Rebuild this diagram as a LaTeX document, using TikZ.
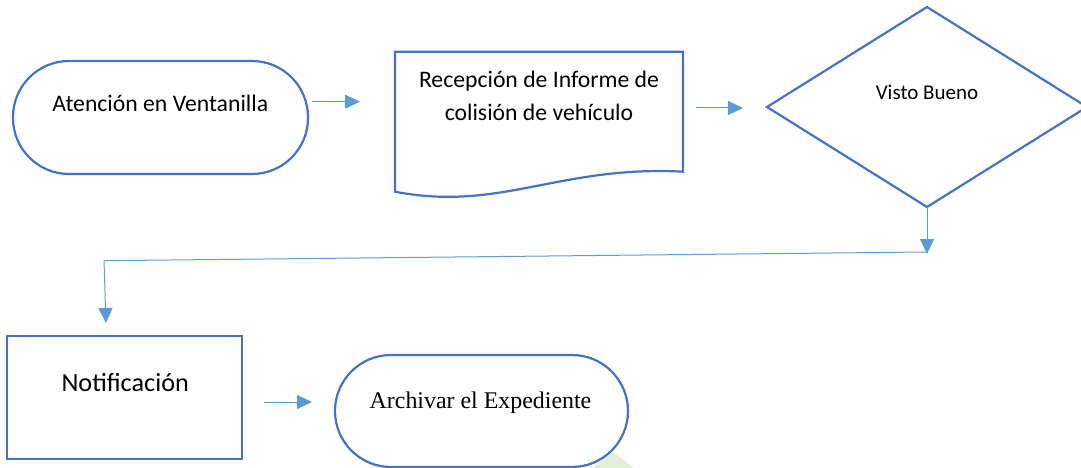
\documentclass[tikz,border=0pt]{standalone}
\usepackage{fontspec}
\setmainfont{Carlito}
\newfontfamily\timesf{Liberation Serif}
\usetikzlibrary{arrows.meta}
\definecolor{shapeblue}{HTML}{4472C4}
\definecolor{arrowblue}{HTML}{5B9BD5}
\definecolor{wmgreen}{HTML}{E2F0D9}
\begin{document}
\begin{tikzpicture}[x=1pt,y=-1pt,
  shapeline/.style={draw=shapeblue,line width=2.2pt,fill=white},
  flow/.style={draw=arrowblue,line width=1pt,-{Triangle[length=15pt,width=14pt]}},
  link/.style={draw=arrowblue,line width=1pt},
  lbl/.style={inner sep=0pt,align=center,text=black}]
\useasboundingbox (0,0) rectangle (1081,468);
% faint watermark
\fill[wmgreen] (592,468) -- (613,452) -- (634,468) -- cycle;
% shapes
\draw[shapeline,rounded corners=56pt] (13,61) rectangle (308,174);
\draw[shapeline] (395,191.7) -- (395,51.7) -- (683,51.7) -- (683,171.7)
   .. controls (560,165) and (500,212) .. cycle;
\draw[shapeline] (767,107) -- (927,7) -- (1087,107) -- (927,207) -- cycle;
\draw[shapeline] (7,336) rectangle (242,459);
\draw[shapeline,rounded corners=56pt] (335,355) rectangle (628,467);
% texts
\node[lbl,anchor=base,font=\fontsize{23.7}{28}\selectfont] (atencion) at (160.3,111.7) {Atención en Ventanilla};
\node[lbl,font=\fontsize{23.7}{33}\selectfont] (recepcion) at (539,96) {Recepción de Informe de\\colisión de vehículo};
\node[lbl,anchor=base,font=\fontsize{21}{25}\selectfont] (visto) at (927,100) {Visto Bueno};
\node[lbl,anchor=base,font=\fontsize{26.2}{31}\selectfont] (notif) at (125.2,391.7) {Notificación};
\node[lbl,anchor=base,font=\timesf\fontsize{23.9}{28}\selectfont] (archivar) at (480.5,408.3) {Archivar el Expediente};
% connector coordinates
\coordinate (a1s) at (312,101.7);
\coordinate (a1e) at (360,101.7);
\coordinate (a2s) at (696,108);
\coordinate (a2e) at (743,108);
\coordinate (a3s) at (927,207);
\coordinate (a3e) at (927,254);
\coordinate (l1) at (927,252);
\coordinate (l2) at (104,260.7);
\coordinate (l3) at (106,323);
\coordinate (a4s) at (264,402);
\coordinate (a4e) at (312,402);
% connectors
\draw[flow] (a1s) -- (a1e);
\draw[flow] (a2s) -- (a2e);
\draw[flow] (a3s) -- (a3e);
\draw[link] (l1) -- (l2);
\draw[flow] (l2) -- (l3);
\draw[flow] (a4s) -- (a4e);
\end{tikzpicture}
\end{document}
